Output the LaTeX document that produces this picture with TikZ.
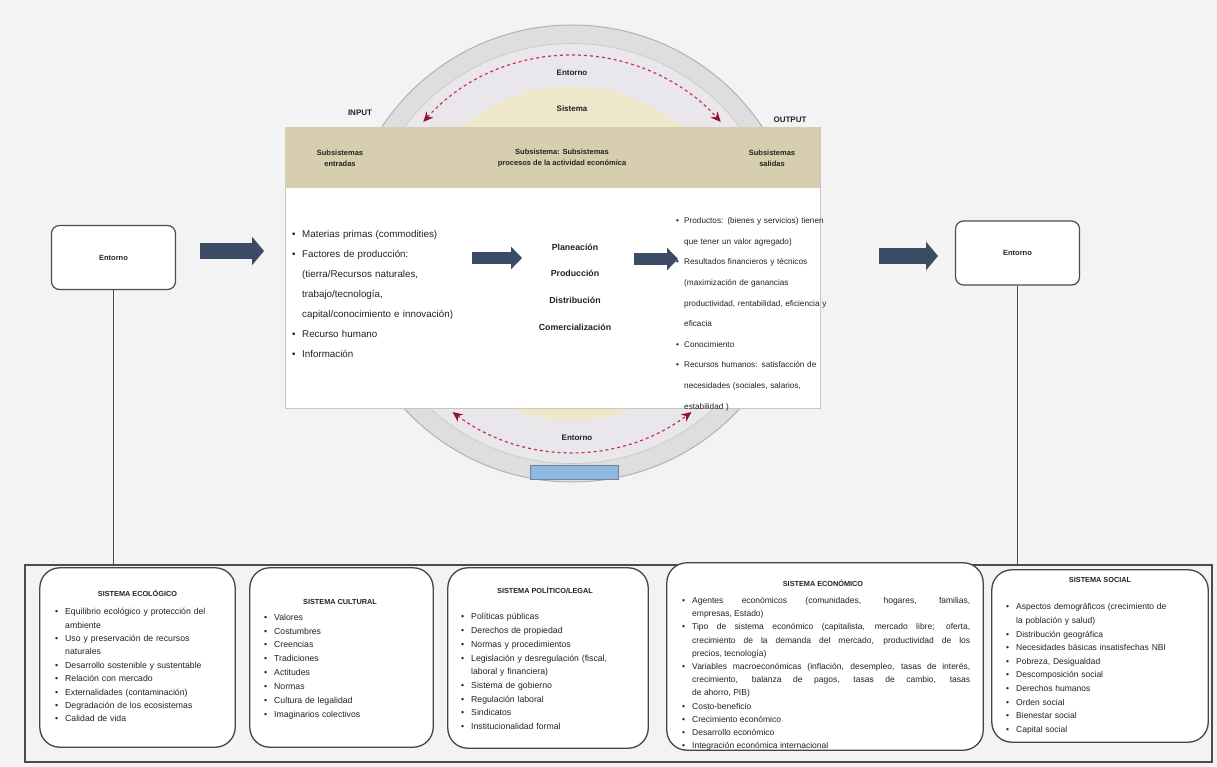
\documentclass[tikz,border=0pt]{standalone}
\usepackage{fontspec}
\setmainfont{Liberation Sans}
\usetikzlibrary{arrows.meta,calc}
\definecolor{bg}{HTML}{F3F3F3}
\definecolor{ringgray}{HTML}{DEDEDE}
\definecolor{paleblue}{HTML}{E9E7EC}
\definecolor{sysbeige}{HTML}{EFE7C9}
\definecolor{hdrtan}{HTML}{D6CEAE}
\definecolor{arrowblue}{HTML}{3B4B66}
\definecolor{reddash}{HTML}{C8324E}
\definecolor{darkred}{HTML}{8E1432}
\definecolor{barblue}{HTML}{8DB8E2}
\definecolor{txt}{HTML}{222222}
\newcommand{\itm}{\par\noindent\hangindent=10pt\hangafter=1\makebox[10pt][l]{\textbullet}}
\newcommand{\cnt}{\par\noindent\hspace*{10pt}}
\newcommand{\itmb}{\par\noindent\makebox[8pt][l]{\textbullet}}
\newcommand{\cntb}{\par\noindent\hspace*{8pt}}
\begin{document}
\begin{tikzpicture}[x=1pt,y=-1pt,
  lst/.style={anchor=north west, inner sep=0pt, align=left, text=txt},
  sbox/.style={fill=white, inner sep=0pt, rounded corners=20pt},
  sborder/.style={draw=gray!55!black, line width=1.3pt, rounded corners=20pt},
  ttl/.style={font=\bfseries\fontsize{7.3}{8}\selectfont, text=txt},
  envbox/.style={draw=gray!60!black, line width=1.2pt, rounded corners=8pt, fill=white, minimum width=124pt, minimum height=64pt, font=\bfseries\fontsize{7.5}{9}\selectfont, text=txt},
  bigarrow/.style={line width=15pt, draw=arrowblue, -{Triangle[length=12pt,width=28pt]}},
  midarrow/.style={line width=11pt, draw=arrowblue, -{Triangle[length=11pt,width=22pt]}},
  redarc/.style={draw=reddash, dashed, line width=1.2pt, {Stealth[length=10pt,width=9pt,color=darkred]}-{Stealth[length=10pt,width=9pt,color=darkred]}},
  hdrtext/.style={font=\bfseries\fontsize{7.5}{11}\selectfont, align=center, text=txt},
  proc/.style={font=\bfseries\fontsize{8.8}{10}\selectfont, text=txt},
  lbl/.style={font=\bfseries\fontsize{8}{9}\selectfont, text=txt},
  boxtext/.style={lst, font=\fontsize{8.7}{13.4}\selectfont}
]
\useasboundingbox (0,0) rectangle (1217,767);
\fill[bg] (0,0) rectangle (1217,767);

% circle (entorno / sistema)
\coordinate (C) at (572,253.5);
\fill[ringgray, draw=gray!60, line width=1pt] (C) circle[radius=228.5];
\fill[paleblue, draw=gray!45, line width=0.6pt] (C) circle[radius=210];
\fill[sysbeige] (C) circle[radius=167];
\node[lbl] (entT) at (572,73) {Entorno};
\node[lbl] (sisT) at (572,109) {Sistema};
\node[lbl] (entB) at (577,438) {Entorno};
\node[fill=barblue, draw=arrowblue!70, line width=0.6pt, minimum width=88pt, minimum height=14pt, inner sep=0] (bar) at (574,472) {};

% main rectangle
\node[draw=gray!45, fill=white, minimum width=535pt, minimum height=281pt, inner sep=0] (main) at (552.5,267.5) {};
\node[fill=hdrtan, minimum width=535pt, minimum height=61pt, inner sep=0, anchor=north] (hdr) at (main.north) {};
\node[hdrtext] (h1) at (340,158) {Subsistemas\\entradas};
\node[hdrtext] (h2) at (562,158) {Subsistema: Subsistemas\\procesos de la actividad económica};
\node[hdrtext] (h3) at (772,158) {Subsistemas\\salidas};

% red dashed arcs
\draw[redarc] ($(C)+(-138.5:198.5)$) arc[start angle=-138.5, end angle=-41.5, radius=198.5];
\draw[redarc] ($(C)+(127:198.5)$) arc[start angle=127, end angle=53, radius=198.5];

\node[lbl] (inp) at (360,113) {INPUT};
\node[lbl] (outp) at (790,120) {OUTPUT};

% input list
\node[lst, text width=172pt, font=\fontsize{9.8}{20}\selectfont] (inlist) at (292,217) {%
\itm Materias primas (commodities)
\itm Factores de producción:
\cnt (tierra/Recursos naturales,
\cnt trabajo/tecnología,
\cnt capital/conocimiento e innovación)
\itm Recurso humano
\itm Información};

% process list
\node[proc] (p1) at (575,247) {Planeación};
\node[proc] (p2) at (575,273) {Producción};
\node[proc] (p3) at (575,300) {Distribución};
\node[proc] (p4) at (575,327) {Comercialización};

% output list
\node[lst, text width=170pt, font=\fontsize{8.2}{20.6}\selectfont] (outlist) at (676,203) {%
\itmb Productos: (bienes y servicios) tienen
\cntb que tener un valor agregado)
\itmb Resultados financieros y técnicos
\cntb (maximización de ganancias
\cntb productividad, rentabilidad, eficiencia y
\cntb eficacia
\itmb Conocimiento
\itmb Recursos humanos: satisfacción de
\cntb necesidades (sociales, salarios,
\cntb estabilidad )};

% arrows inside
\coordinate (m1s) at (472,258); \coordinate (m1e) at (522,258);
\draw[midarrow] (m1s) -- (m1e);
\coordinate (m2s) at (634,259); \coordinate (m2e) at (678,259);
\draw[midarrow] (m2s) -- (m2e);

% entorno boxes
\node[envbox] (lbox) at (113.5,257.5) {Entorno};
\node[envbox] (rbox) at (1017.5,253) {Entorno};
\coordinate (a1s) at (200,251); \coordinate (a1e) at (264,251);
\draw[bigarrow] (a1s) -- (a1e);
\coordinate (a2s) at (879,256); \coordinate (a2e) at (938,256);
\draw[bigarrow] (a2s) -- (a2e);

% bottom environment frame
\node[draw=gray!60!black, line width=1.3pt, fill=bg, minimum width=1187pt, minimum height=197pt, inner sep=0] (env) at (618.5,663.5) {};
\draw[gray!60!black, line width=1.2pt] (lbox.south) -- (lbox.south |- env.north);
\draw[gray!60!black, line width=1.2pt] (rbox.south) -- (rbox.south |- env.north);

% five system boxes
\node[sbox, minimum width=195pt, minimum height=179pt] (b1) at (137.5,657.5) {};
\node[sbox, minimum width=183pt, minimum height=179pt] (b2) at (341.5,657.5) {};
\node[sbox, minimum width=200pt, minimum height=180pt] (b3) at (548,658) {};
\node[sbox, minimum width=316pt, minimum height=187pt] (b4) at (825,656.5) {};
\node[sbox, minimum width=216pt, minimum height=172pt] (b5) at (1100,656) {};

\node[ttl] (t1) at (137.5,593) {SISTEMA ECOLÓGICO};
\node[boxtext, text width=180pt] (l1) at (55,601) {%
\itm Equilibrio ecológico y protección del
\cnt ambiente
\itm Uso y preservación de recursos
\cnt naturales
\itm Desarrollo sostenible y sustentable
\itm Relación con mercado
\itm Externalidades (contaminación)
\itm Degradación de los ecosistemas
\itm Calidad de vida};

\node[ttl] (t2) at (340,602) {SISTEMA CULTURAL};
\node[boxtext, text width=165pt, font=\fontsize{8.7}{13.9}\selectfont] (l2) at (264,606) {%
\itm Valores
\itm Costumbres
\itm Creencias
\itm Tradiciones
\itm Actitudes
\itm Normas
\itm Cultura de legalidad
\itm Imaginarios colectivos};

\node[ttl] (t3) at (545,590) {SISTEMA POLÍTICO/LEGAL};
\node[boxtext, text width=180pt, font=\fontsize{8.7}{13.7}\selectfont] (l3) at (461,606) {%
\itm Políticas públicas
\itm Derechos de propiedad
\itm Normas y procedimientos
\itm Legislación y desregulación (fiscal,
\cnt laboral y financiera)
\itm Sistema de gobierno
\itm Regulación laboral
\itm Sindicatos
\itm Institucionalidad formal};

\node[ttl] (t4) at (823,583) {SISTEMA ECONÓMICO};
\node[boxtext, text width=288pt, align=justify, font=\fontsize{8.5}{13.2}\selectfont] (l4) at (682,590) {%
\itm Agentes económicos (comunidades, hogares, familias,\linebreak empresas, Estado)
\itm Tipo de sistema económico (capitalista, mercado libre; oferta,\linebreak crecimiento de la demanda del mercado, productividad de los\linebreak precios, tecnología)
\itm Variables macroeconómicas (inflación, desempleo, tasas de interés,\linebreak crecimiento, balanza de pagos, tasas de cambio, tasas\linebreak de ahorro, PIB)
\itm Costo-beneficio
\itm Crecimiento económico
\itm Desarrollo económico
\itm Integración económica internacional};

\node[ttl] (t5) at (1100,580) {SISTEMA SOCIAL};
\node[boxtext, text width=190pt, font=\fontsize{8.5}{13.6}\selectfont] (l5) at (1006,596) {%
\itm Aspectos demográficos (crecimiento de
\cnt la población y salud)
\itm Distribución geográfica
\itm Necesidades básicas insatisfechas NBI
\itm Pobreza, Desigualdad
\itm Descomposición social
\itm Derechos humanos
\itm Orden social
\itm Bienestar social
\itm Capital social};

\foreach \b in {b1,b2,b3,b4,b5} {
  \draw[sborder] (\b.north west) rectangle (\b.south east);
}
\end{tikzpicture}
\end{document}
